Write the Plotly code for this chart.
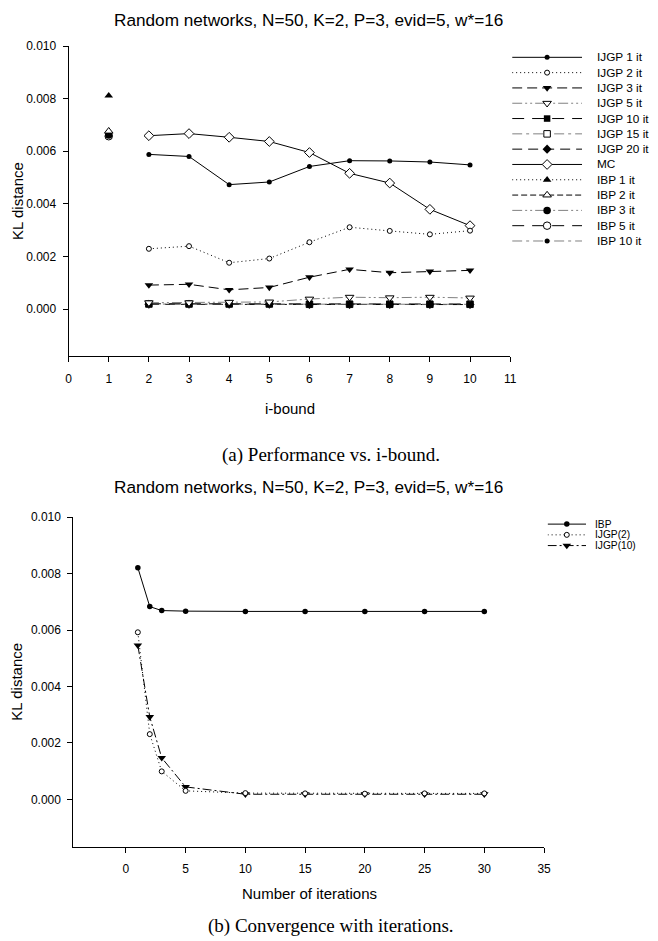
import plotly.graph_objects as go

# ---------------- data ----------------
ibound = [2, 3, 4, 5, 6, 7, 8, 9, 10]
ijgp_1it = [0.00588, 0.00580, 0.00473, 0.00483, 0.00542, 0.00564, 0.00563, 0.00559, 0.00548]
ijgp_2it = [0.00229, 0.00239, 0.00176, 0.00192, 0.00254, 0.00311, 0.00297, 0.00284, 0.00298]
ijgp_3it = [0.00091, 0.00094, 0.00073, 0.00082, 0.00121, 0.00151, 0.00138, 0.00143, 0.00147]
ijgp_5it = [0.00024, 0.00024, 0.00026, 0.00027, 0.00038, 0.00045, 0.00043, 0.00045, 0.00042]
ijgp_10it = [0.00020, 0.00020, 0.00020, 0.00020, 0.00019, 0.00019, 0.00019, 0.00019, 0.00019]
ijgp_15it = [0.00019, 0.00019, 0.00019, 0.00019, 0.00018, 0.00018, 0.00018, 0.00018, 0.00018]
ijgp_20it = [0.00018, 0.00018, 0.00018, 0.00018, 0.00017, 0.00017, 0.00017, 0.00017, 0.00017]
mc = [0.00659, 0.00667, 0.00653, 0.00637, 0.00595, 0.00516, 0.00479, 0.00379, 0.00317]
ibp_x = [1]
ibp_1it = [0.00811]
ibp_2it = [0.00676]
ibp_3it = [0.00662]
ibp_5it = [0.00657]
ibp_10it = [0.00664]

iterations = [1, 2, 3, 5, 10, 15, 20, 25, 30]
conv_ibp = [0.00821, 0.00683, 0.00669, 0.00667, 0.00666, 0.00666, 0.00666, 0.00666, 0.00666]
conv_ijgp2 = [0.00592, 0.00231, 0.00099, 0.00030, 0.00022, 0.00021, 0.00020, 0.00021, 0.00021]
conv_ijgp10 = [0.00546, 0.00292, 0.00147, 0.00044, 0.00018, 0.00018, 0.00018, 0.00018, 0.00018]

y_ticks = [0.000, 0.002, 0.004, 0.006, 0.008, 0.010]
x_ticks_top = list(range(0, 12))
x_ticks_bottom = [0, 5, 10, 15, 20, 25, 30, 35]

title_text = "Random networks, N=50, K=2, P=3, evid=5, w*=16"

# ---------------- styles ----------------
BLACK = "#000000"
GRAY = "#808080"
DOT = "1px,3px"
DDD = "10px,3px,2px,3px,2px,3px"
DD = "10px,4px,3px,4px"


def sty(dash, lcolor, symbol, size, open_):
    return dict(dash=dash, lcolor=lcolor, symbol=symbol, size=size, open=open_)


top_series = [
    ("IJGP 1 it", ibound, ijgp_1it, sty("solid", BLACK, "circle", 5, False)),
    ("IJGP 2 it", ibound, ijgp_2it, sty(DOT, BLACK, "circle", 5, True)),
    ("IJGP 3 it", ibound, ijgp_3it, sty("10px,5px", BLACK, "triangle-down", 7.5, False)),
    ("IJGP 5 it", ibound, ijgp_5it, sty(DDD, GRAY, "triangle-down", 7.5, True)),
    ("IJGP 10 it", ibound, ijgp_10it, sty("12px,8px", BLACK, "square", 6.5, False)),
    ("IJGP 15 it", ibound, ijgp_15it, sty(DD, GRAY, "square", 6.5, True)),
    ("IJGP 20 it", ibound, ijgp_20it, sty("10px,6px", BLACK, "diamond", 7, False)),
    ("MC", ibound, mc, sty("solid", BLACK, "diamond", 7.5, True)),
    ("IBP 1 it", ibp_x, ibp_1it, sty(DOT, BLACK, "triangle-up", 7.5, False)),
    ("IBP 2 it", ibp_x, ibp_2it, sty("6px,3px", BLACK, "triangle-up", 7.5, True)),
    ("IBP 3 it", ibp_x, ibp_3it, sty(DDD, GRAY, "circle", 7.5, False)),
    ("IBP 5 it", ibp_x, ibp_5it, sty("12px,8px", BLACK, "circle", 7.5, True)),
    ("IBP 10 it", ibp_x, ibp_10it, sty(DD, GRAY, "circle", 5, False)),
]

bottom_series = [
    ("IBP", iterations, conv_ibp, sty("solid", BLACK, "circle", 5.5, False)),
    ("IJGP(2)", iterations, conv_ijgp2, sty(DOT, BLACK, "circle", 5, True)),
    ("IJGP(10)", iterations, conv_ijgp10, sty("9px,3px,2px,3px", BLACK, "triangle-down", 7.5, False)),
]


def marker(s):
    if s["open"]:
        return dict(symbol=s["symbol"], size=s["size"], color="white",
                    line=dict(color=BLACK, width=1))
    return dict(symbol=s["symbol"], size=s["size"], color=BLACK,
                line=dict(color=BLACK, width=0))


W, H = 658, 941
FONT = "Arial, Liberation Sans"
SERIF = "Times New Roman, Liberation Serif"


def px_x(p):
    return p / W


def px_y(p):
    return 1 - p / H


fig = go.Figure()

# ---------------- main data traces ----------------
for name, xs, ys, s in reversed(top_series):
    fig.add_trace(go.Scatter(
        x=xs, y=ys, mode="lines+markers", name=name, showlegend=False,
        line=dict(color=s["lcolor"], width=1, dash=s["dash"]),
        marker=marker(s), xaxis="x", yaxis="y", cliponaxis=False))

for name, xs, ys, s in reversed(bottom_series):
    fig.add_trace(go.Scatter(
        x=xs, y=ys, mode="lines+markers", name=name, showlegend=False,
        line=dict(color=s["lcolor"], width=1, dash=s["dash"]),
        marker=marker(s), xaxis="x2", yaxis="y2", cliponaxis=False))


# ---------------- custom legends (line sample + marker + label) ----------------
def add_legend(series, xa, ya, row0, dy, text_px, fsize):
    for i, (name, xs, ys, s) in enumerate(series):
        fig.add_trace(go.Scatter(
            x=[0, 1], y=[i, i], mode="lines", showlegend=False, hoverinfo="skip",
            line=dict(color=s["lcolor"], width=1, dash=s["dash"]),
            xaxis=xa, yaxis=ya))
        fig.add_trace(go.Scatter(
            x=[0.5], y=[i], mode="markers", showlegend=False, hoverinfo="skip",
            marker=marker(s), xaxis=xa, yaxis=ya, cliponaxis=False))
        fig.add_annotation(text=name, x=px_x(text_px), y=px_y(row0 + i * dy),
                           xref="paper", yref="paper", xanchor="left", yanchor="middle",
                           showarrow=False, borderpad=0, borderwidth=0,
                           font=dict(family=FONT, size=fsize, color=BLACK))


TOP_ROW0, TOP_DY = 50.7, 15.42
BOT_ROW0, BOT_DY = 521.0, 10.8
add_legend(top_series, "x3", "y3", TOP_ROW0, TOP_DY, 603.0, 11.8)
add_legend(bottom_series, "x4", "y4", BOT_ROW0, BOT_DY, 601.0, 10.2)

# ---------------- axes ----------------
common = dict(showline=True, linecolor=BLACK, linewidth=1, ticks="outside", ticklen=5,
              tickcolor=BLACK, tickwidth=1, showgrid=False, zeroline=False, mirror=False,
              tickfont=dict(family=FONT, size=12, color=BLACK), fixedrange=True)

hidden = dict(visible=False, showgrid=False, zeroline=False, fixedrange=True)

top_y0, top_y1 = 39.3, 352.0
bot_y0, bot_y1 = 514.0, 846.0

fig.update_layout(
    width=W, height=H, margin=dict(l=0, r=0, t=0, b=0),
    paper_bgcolor="white", plot_bgcolor="white", showlegend=False,
    font=dict(family=FONT, color=BLACK),
    xaxis=dict(common, domain=[px_x(66.6), px_x(515.0)], range=[0, 11],
               tickvals=x_ticks_top, anchor="y", ticklabelstandoff=6),
    yaxis=dict(common, domain=[px_y(top_y1), px_y(top_y0)], range=[-0.0018, 0.010],
               tickvals=y_ticks, tickformat=".3f", anchor="x", ticklabelstandoff=4),
    xaxis2=dict(common, domain=[px_x(71.4), px_x(549.4)], range=[-4.4, 35],
                tickvals=x_ticks_bottom, anchor="y2", ticklabelstandoff=6),
    yaxis2=dict(common, domain=[px_y(bot_y1), px_y(bot_y0)],
                range=[-(bot_y1 - 798.3) / 56.8 * 0.002, 0.010],
                tickvals=y_ticks, tickformat=".3f", anchor="x2", ticklabelstandoff=4),
    xaxis3=dict(hidden, domain=[px_x(517.0), px_x(588.0)], range=[0, 1], anchor="y3"),
    yaxis3=dict(hidden, domain=[px_y(TOP_ROW0 + 12.5 * TOP_DY), px_y(TOP_ROW0 - 0.5 * TOP_DY)],
                range=[12.5, -0.5], anchor="x3"),
    xaxis4=dict(hidden, domain=[px_x(553.0), px_x(592.0)], range=[0, 1], anchor="y4"),
    yaxis4=dict(hidden, domain=[px_y(BOT_ROW0 + 2.5 * BOT_DY), px_y(BOT_ROW0 - 0.5 * BOT_DY)],
                range=[2.5, -0.5], anchor="x4"),
)


# ---------------- text annotations ----------------
def ann(text, x, y, size, family=FONT, angle=0):
    fig.add_annotation(text=text, x=px_x(x), y=px_y(y), xref="paper", yref="paper",
                       xanchor="center", yanchor="middle", showarrow=False, textangle=angle,
                       borderpad=0, font=dict(family=family, size=size, color=BLACK))


ann(title_text, 310, 13, 17.2)
ann("KL distance", 14, (top_y0 + top_y1) / 2, 15, angle=-90)
ann("i-bound", 291, 405, 15)
ann("(a) Performance vs. i-bound.", 333, 451, 19, family=SERIF)

ann(title_text, 310, 484, 17.2)
ann("KL distance", 14, (bot_y0 + bot_y1) / 2, 15, angle=-90)
ann("Number of iterations", 311, 893, 15)
ann("(b) Convergence with iterations.", 333, 926, 19, family=SERIF)

fig.write_html(
    "out.html",
    config={"displayModeBar": False, "staticPlot": True},
    post_script="document.body.style.margin='0';document.body.style.overflow='hidden';",
)
